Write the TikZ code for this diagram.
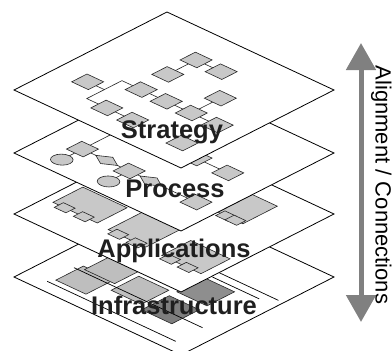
\documentclass[tikz,border=0pt]{standalone}
\usepackage{fontspec}
\setmainfont{Liberation Sans}
\usetikzlibrary{arrows.meta}

\definecolor{blkgray}{HTML}{C8C8C8}
\definecolor{srvlight}{HTML}{BEBEBE}
\definecolor{srvdark}{HTML}{7E7E7E}
\definecolor{srvmid}{HTML}{8E8E8E}
\definecolor{flowgray}{HTML}{808080}

\tikzset{
  onplane/.style={x={(8.35pt,-3.9pt)}, y={(7.65pt,3.9pt)}},
  layer/.style={draw=black, fill=white, line width=0.8pt},
  blk/.style={draw=black!85, fill=blkgray, line width=0.6pt},
  link/.style={draw=black!85, line width=0.6pt},
  wire/.style={draw=black, line width=0.7pt},
  tag/.style={font=\bfseries\fontsize{25.5}{26}\selectfont, text=black!88, anchor=base},
  dia/.pic={\filldraw[blk] (-1,-1) -- (1,-1) -- (1,1) -- (-1,1) -- cycle;},
  dot/.pic={\filldraw[blk] (0,0) circle[radius=1];},
  gate/.pic={\filldraw[blk] (-1.3,0) -- (0,-0.8) -- (1.3,0) -- (0,0.8) -- cycle;}
}

% plate on a layer: style, u0, v0, u1, v1
\newcommand{\plate}[5]{\filldraw[#1] (#2,#3) -- (#4,#3) -- (#4,#5) -- (#2,#5) -- cycle;}
% component: body u0 v0 u1 v1, two lugs on the lower edge at u = #5, #6
\newcommand{\comp}[6]{%
  \plate{blk}{#1}{#2}{#3}{#4}
  \plate{blk}{#5-0.7}{#2-0.6}{#5+0.7}{#2+0.6}
  \plate{blk}{#6-0.7}{#2-0.6}{#6+0.7}{#2+0.6}}

\begin{document}
\begin{tikzpicture}[x=1pt,y=1pt]
\useasboundingbox (0,0) rectangle (392,-351);

% infrastructure layer
\begin{scope}[onplane, shift={(14pt,-277pt)}]
  \draw[layer] (0,0) -- (20,0) -- (20,20) -- (0,20) -- cycle;
  \plate{draw=black!85, fill=srvlight, line width=0.6pt}{3}{2.2}{6.6}{5.8}
  \plate{draw=black!85, fill=srvlight, line width=0.6pt}{3.5}{5.4}{7.1}{9}
  \plate{draw=black!85, fill=srvlight, line width=0.6pt}{7.7}{4.3}{11.3}{7.9}
  \plate{draw=black!85, fill=srvdark, line width=0.6pt}{12}{3.6}{15.6}{7.2}
  \plate{draw=black!85, fill=srvmid, line width=0.6pt}{12}{8.2}{15.6}{11.8}
  \draw[wire] (2.6,1.5) -- (18,1.5);
  \draw[wire] (2.6,5) -- (18,5);
  \draw[wire] (12.4,12.4) -- (18,12.4);
  \draw[wire] (8,13.4) -- (19.4,13.4);
\end{scope}

% applications layer
\begin{scope}[onplane, shift={(14pt,-214pt)}]
  \draw[layer] (0,0) -- (20,0) -- (20,20) -- (0,20) -- cycle;
  \comp{1}{4}{6.3}{7.9}{2.4}{4.7}
  \comp{7.8}{3.8}{12.3}{9}{9}{11.2}
  \comp{14.3}{3.7}{19}{7.5}{15.3}{17.4}
  \comp{12.5}{13}{15.5}{17.5}{13.5}{14.6}
\end{scope}

% process layer
\begin{scope}[onplane, shift={(14pt,-153pt)}]
  \draw[layer] (0,0) -- (20,0) -- (20,20) -- (0,20) -- cycle;
  \coordinate (p1) at (3.8,4.8);
  \coordinate (c1) at (3.8,2.1);
  \coordinate (r1) at (6.7,4.8);
  \coordinate (p2) at (9.4,4.8);
  \coordinate (c2) at (9.4,2.1);
  \coordinate (r2) at (12,4.8);
  \coordinate (p3) at (17.4,4.8);
  \coordinate (p4) at (15.8,10.7);
  \coordinate (p5) at (12,10.7);
  \draw[link] (c1) -- (p1) -- (r1) -- (p2) -- (r2) -- (p3);
  \draw[link] (c2) -- (p2);
  \draw[link] (p1) -- (3.8,10);
  \draw[link] (p5) -- (p4);
  \foreach \n in {p1,p2,p3,p4,p5} \pic at (\n) {dia};
  \foreach \n in {c1,c2} \pic at (\n) {dot};
  \foreach \n in {r1,r2} \pic at (\n) {gate};
\end{scope}

% strategy layer
\begin{scope}[onplane, shift={(14pt,-90pt)}]
  \draw[layer] (0,0) -- (20,0) -- (20,20) -- (0,20) -- cycle;
  \coordinate (s1) at (3.6,5.7);
  \coordinate (s2) at (7.9,8);
  \coordinate (s3) at (10.9,8);
  \coordinate (s4) at (13.9,8);
  \coordinate (s5) at (8,3.4);
  \coordinate (s6) at (11.1,3.4);
  \coordinate (s7) at (7.7,11.7);
  \coordinate (s8) at (7.7,15.4);
  \coordinate (s9) at (10.7,15.4);
  \coordinate (s10) at (13.9,11.8);
  \coordinate (s11) at (17,8);
  \coordinate (s12) at (17,3.4);
  \coordinate (j1) at (5.6,3.4);
  \coordinate (j2) at (5.6,8);
  \draw[link] (s5) -- (j1) -- (j2) -- (s2) -- (s3) -- (s4) -- (s11);
  \draw[link] (s1) -- (5.6,5.7);
  \draw[link] (s5) -- (s6);
  \draw[link] (s4) -- (s10);
  \draw[link] (s7) -- (s8) -- (s9);
  \foreach \n in {s1,s2,s3,s4,s5,s6,s7,s8,s9,s10,s11,s12} \pic at (\n) {dia};
\end{scope}

\node[tag] (strat) at (172,-138) {Strategy};
\node[tag] (proc) at (175,-197) {Process};
\node[tag] (apps) at (174,-257) {Applications};
\node[tag] (infra) at (174,-314) {Infrastructure};

\coordinate (up) at (361,-43);
\coordinate (dn) at (361,-322);
\draw[flowgray, line width=5pt,
  {Triangle[length=27pt,width=29pt]}-{Triangle[length=27pt,width=29pt]}] (up) -- (dn);
\node[rotate=-90, anchor=base, font=\fontsize{22}{22}\selectfont] (axis)
  at (375.5,-185) {Alignment / Connections};
\end{tikzpicture}
\end{document}
